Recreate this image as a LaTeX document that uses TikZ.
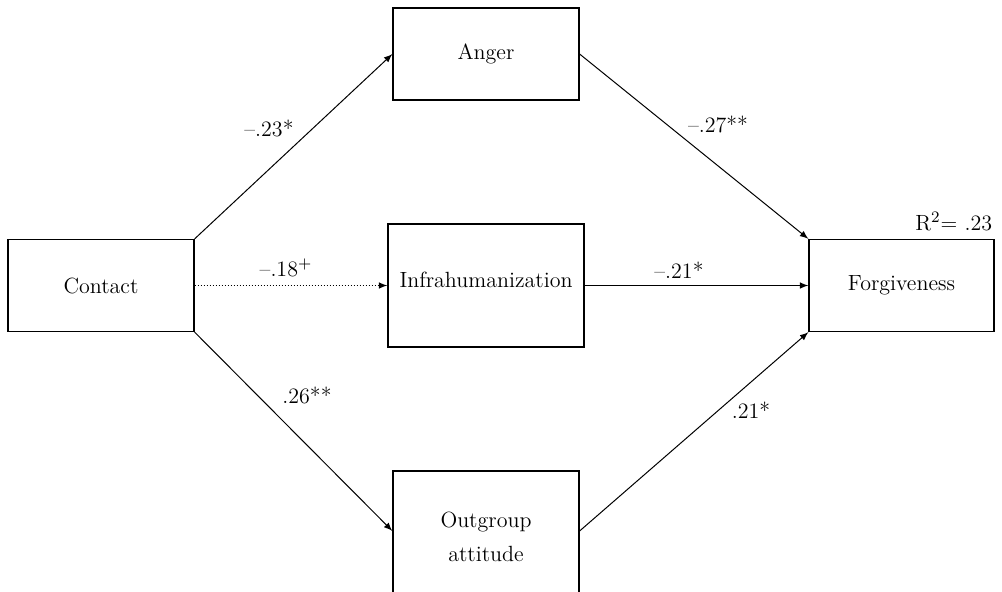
\documentclass[tikz,border=0pt]{standalone}
\usepackage{amsmath}
\usepackage{tikz}

\begin{document}
\begin{tikzpicture}[x=0.5pt, y=-0.5pt, font=\fontsize{11}{15}\selectfont,
    box/.style={rectangle, draw, line width=0.6pt, inner sep=0pt, minimum width=93pt, minimum height=46pt},
    link/.style={-latex, line width=0.5pt},
    coef/.style={inner sep=1pt}]
                    \useasboundingbox (0,0) rectangle (1002,591);
                    % variables
                    \node[box] (contact) at (101,285.5) {Contact};
                    \node[box] (anger) at (486,54) {Anger};
                    \node[box, minimum width=98pt, minimum height=61.5pt] (infra) at (486,285.5) {\raisebox{6pt}{Infrahumanization}};
                    \node[box, minimum height=70pt, align=center] (outgroup) at (486,541) {\raisebox{4pt}{\shortstack{Outgroup\\[4pt]attitude}}};
                    \node[box, minimum width=92.5pt] (forgive) at (901.5,285.5) {Forgiveness};
                    % paths
                    \draw[link] (contact.north east) -- (anger.west);
                    \draw[link, densely dotted] (contact.east) -- (infra.west);
                    \draw[link] (contact.south east) -- ([yshift=5pt]outgroup.west);
                    \draw[link] (anger.east) -- (forgive.north west);
                    \draw[link] (infra.east) -- (forgive.west);
                    \draw[link] ([yshift=5pt]outgroup.east) -- (forgive.south west);
                    % coefficients
                    \node[coef] (c1) at (269,128) {--.23*};
                    \node[coef] (c2) at (286,268) {--.18$^+$};
                    \node[coef] (c3) at (307,395) {.26**};
                    \node[coef] (c4) at (718,124) {--.27**};
                    \node[coef] (c5) at (679,270) {--.21*};
                    \node[coef] (c6) at (751,410) {.21*};
                    \node[coef, anchor=south east] (r2) at ([yshift=3pt]forgive.north east) {R$^2$= .23};
                \end{tikzpicture}
\end{document}
